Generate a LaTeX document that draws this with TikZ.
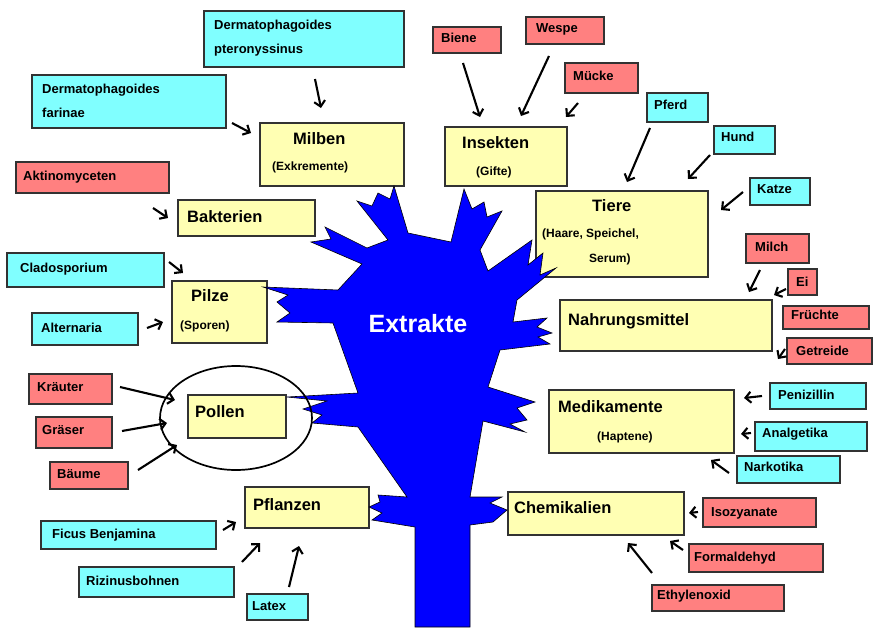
\documentclass[tikz,border=0pt]{standalone}
\usepackage{fontspec}
\setmainfont{Liberation Sans}
\usetikzlibrary{arrows.meta,shapes.geometric}
\definecolor{cyb}{RGB}{128,255,255}
\definecolor{slm}{RGB}{255,128,128}
\definecolor{ylw}{RGB}{255,255,179}
\definecolor{bord}{RGB}{50,50,50}
\definecolor{treeblue}{RGB}{0,0,255}
\newcommand\mybox[6]{\node[boxs,fill=#6,anchor=north west,minimum width={(#4-#2)*1pt},minimum height={(#5-#3)*1pt}] (#1) at (#2,#3) {};}
\newcommand\mylab[5]{\node[#2] (#1) at (#3,#4) {#5};}
\newcommand\myarr[5]{\coordinate (#1s) at (#2,#3); \coordinate (#1e) at (#4,#5); \draw[arr] (#1s) -- (#1e);}
\begin{document}
\begin{tikzpicture}[x=1pt,y=-1pt,
  boxs/.style={draw=bord,line width=1.1pt,rectangle,inner sep=0pt,outer sep=0pt},
  sl/.style={anchor=base west,inner sep=0pt,font=\bfseries\fontsize{13}{15}\selectfont},
  bl/.style={anchor=base west,inner sep=0pt,font=\bfseries\fontsize{16.5}{19}\selectfont},
  subl/.style={anchor=base west,inner sep=0pt,font=\bfseries\fontsize{12}{14}\selectfont},
  arr/.style={line width=2.1pt,-{Straight Barb[length=5.5pt,width=11pt]}},
  treeshape/.style={fill=treeblue,draw=black,line width=0.6pt,line join=miter}]
\useasboundingbox (0,0) rectangle (873,627);
% cyan boxes
\mybox{dpter}{204}{11}{404}{67}{cyb}
\mybox{dfar}{32}{75}{226}{128}{cyb}
\mybox{pferd}{647}{93}{708}{122}{cyb}
\mybox{hund}{714}{126}{775}{154}{cyb}
\mybox{katze}{750}{178}{810}{205}{cyb}
\mybox{peni}{770}{383}{866}{409}{cyb}
\mybox{analg}{755}{422}{867}{451}{cyb}
\mybox{narko}{737}{456}{840}{483}{cyb}
\mybox{clado}{7}{253}{164}{287}{cyb}
\mybox{altern}{32}{313}{138}{345}{cyb}
\mybox{ficus}{41}{521}{216}{549}{cyb}
\mybox{rizinus}{79}{567}{234}{597}{cyb}
\mybox{latex}{247}{594}{308}{620}{cyb}
% salmon boxes
\mybox{aktino}{16}{162}{169}{193}{slm}
\mybox{biene}{433}{27}{501}{53}{slm}
\mybox{wespe}{526}{17}{604}{44}{slm}
\mybox{muecke}{565}{63}{638}{93}{slm}
\mybox{milch}{746}{234}{809}{263}{slm}
\mybox{ei}{788}{269}{817}{295}{slm}
\mybox{fruechte}{783}{306}{869}{329}{slm}
\mybox{getreide}{787}{338}{872}{364}{slm}
\mybox{kraeuter}{29}{374}{112}{404}{slm}
\mybox{graeser}{36}{417}{112}{448}{slm}
\mybox{baeume}{50}{462}{128}{489}{slm}
\mybox{isozy}{703}{498}{816}{527}{slm}
\mybox{formal}{689}{544}{823}{572}{slm}
\mybox{ethylen}{652}{585}{784}{611}{slm}
% yellow boxes
\mybox{milben}{260}{123}{404}{186}{ylw}
\mybox{bakterien}{178}{200}{315}{236}{ylw}
\mybox{insekten}{445}{127}{567}{186}{ylw}
\mybox{tiere}{536}{191}{708}{277}{ylw}
\mybox{nahrung}{560}{300}{772}{351}{ylw}
\mybox{medik}{549}{390}{734}{453}{ylw}
\mybox{pilze}{172}{281}{267}{343}{ylw}
\mybox{pollen}{188}{395}{286}{438}{ylw}
\mybox{pflanzen}{245}{487}{369}{528}{ylw}
\mybox{chemie}{508}{492}{684}{535}{ylw}
% tree
\path[treeshape] (415,627) -- (415,527) -- (372,520) -- (382,513) -- (369,507) -- (380,502) -- (378,495) -- (407,497)
 -- (358,427) -- (312,423) -- (322,415) -- (303,409) -- (327,401) -- (287,397) -- (358,393)
 -- (333,323) -- (277,322) -- (290,313) -- (277,302) -- (288,295) -- (263,287) -- (338,290)
 -- (362,264) -- (311,242) -- (331,239) -- (325,227) -- (367,248) -- (388,240)
 -- (357,201) -- (372,206) -- (378,193) -- (390,199) -- (394,186) -- (408,233)
 -- (451,242) -- (464,189) -- (472,209) -- (484,202) -- (487,217) -- (502,211) -- (480,250)
 -- (488,271) -- (532,240) -- (528,265) -- (543,253) -- (540,275) -- (556,268) -- (517,300)
 -- (513,322) -- (547,318) -- (537,327) -- (552,333) -- (538,337) -- (550,344) -- (500,350)
 -- (488,387) -- (535,402) -- (517,408) -- (527,420) -- (510,424) -- (525,432) -- (483,421)
 -- (470,497) -- (502,497) -- (490,503) -- (507,510) -- (493,522) -- (470,525) -- (470,627) -- cycle;
\node[text=white,font=\bfseries\fontsize{25}{28}\selectfont,inner sep=0pt] (extrakte) at (418,324) {Extrakte};
% ellipse round Pollen
\node[draw=black,line width=1.7pt,ellipse,minimum width=152pt,minimum height=104pt,inner sep=0pt] (ell) at (236,418) {};
% labels
\mylab{t1}{sl}{214}{29}{Dermatophagoides}
\mylab{t2}{sl}{214}{53}{pteronyssinus}
\mylab{t3}{sl}{42}{93}{Dermatophagoides}
\mylab{t4}{sl}{42}{117}{farinae}
\mylab{t5}{sl}{23}{180}{Aktinomyceten}
\mylab{t6}{sl}{441}{42}{Biene}
\mylab{t7}{sl}{536}{32}{Wespe}
\mylab{t8}{sl}{573}{80}{Mücke}
\mylab{t9}{sl}{654}{109}{Pferd}
\mylab{t10}{sl}{721}{141}{Hund}
\mylab{t11}{sl}{757}{193}{Katze}
\mylab{t12}{sl}{755}{251}{Milch}
\mylab{t13}{sl}{796}{286}{Ei}
\mylab{t14}{sl}{791}{319}{Früchte}
\mylab{t15}{sl}{796}{355}{Getreide}
\mylab{t16}{sl}{778}{399}{Penizillin}
\mylab{t17}{sl}{762}{437}{Analgetika}
\mylab{t18}{sl}{744}{471}{Narkotika}
\mylab{t19}{sl}{20}{272}{Cladosporium}
\mylab{t20}{sl}{41}{332}{Alternaria}
\mylab{t21}{sl}{37}{391}{Kräuter}
\mylab{t22}{sl}{42}{434}{Gräser}
\mylab{t23}{sl}{57}{478}{Bäume}
\mylab{t24}{sl}{52}{538}{Ficus Benjamina}
\mylab{t25}{sl}{86}{585}{Rizinusbohnen}
\mylab{t26}{sl}{252}{610}{Latex}
\mylab{t27}{sl}{711}{516}{Isozyanate}
\mylab{t28}{sl}{694}{561}{Formaldehyd}
\mylab{t29}{sl}{657}{599}{Ethylenoxid}
\mylab{b1}{bl}{293}{144}{Milben}
\mylab{b2}{bl}{187}{222}{Bakterien}
\mylab{b3}{bl}{462}{148}{Insekten}
\mylab{b4}{bl}{592}{211}{Tiere}
\mylab{b5}{bl}{568}{325}{Nahrungsmittel}
\mylab{b6}{bl}{558}{412}{Medikamente}
\mylab{b7}{bl}{191}{301}{Pilze}
\mylab{b8}{bl}{195}{417}{Pollen}
\mylab{b9}{bl}{253}{510}{Pflanzen}
\mylab{b10}{bl}{514}{513}{Chemikalien}
\mylab{s1}{subl}{272}{170}{(Exkremente)}
\mylab{s2}{subl}{476}{175}{(Gifte)}
\mylab{s3}{subl}{542}{237}{(Haare, Speichel,}
\mylab{s4}{subl}{589}{262}{Serum)}
\mylab{s5}{subl}{180}{329}{(Sporen)}
\mylab{s6}{subl}{597}{440}{(Haptene)}
% arrows
\myarr{a1}{232}{123}{251}{133}
\myarr{a2}{315}{79}{321}{108}
\myarr{a3}{153}{208}{168}{218}
\myarr{a4}{463}{63}{480}{117}
\myarr{a5}{549}{56}{521}{116}
\myarr{a6}{578}{103}{566}{117}
\myarr{a7}{650}{128}{627}{182}
\myarr{a8}{710}{155}{688}{179}
\myarr{a9}{743}{192}{721}{210}
\myarr{a10}{760}{270}{749}{292}
\myarr{a11}{786}{289}{774}{295}
\myarr{a12}{785}{349}{778}{359}
\myarr{a13}{762}{396}{744}{398}
\myarr{a14}{751}{433}{741}{434}
\myarr{a15}{729}{473}{711}{460}
\myarr{a16}{169}{262}{183}{273}
\myarr{a17}{147}{328}{163}{322}
\myarr{a18}{120}{387}{175}{400}
\myarr{a19}{122}{431}{167}{423}
\myarr{a20}{138}{470}{177}{445}
\myarr{a21}{223}{530}{236}{522}
\myarr{a22}{242}{562}{260}{543}
\myarr{a23}{289}{587}{299}{546}
\myarr{a24}{698}{512}{689}{513}
\myarr{a25}{683}{550}{670}{541}
\myarr{a26}{652}{573}{628}{543}
\end{tikzpicture}
\end{document}
